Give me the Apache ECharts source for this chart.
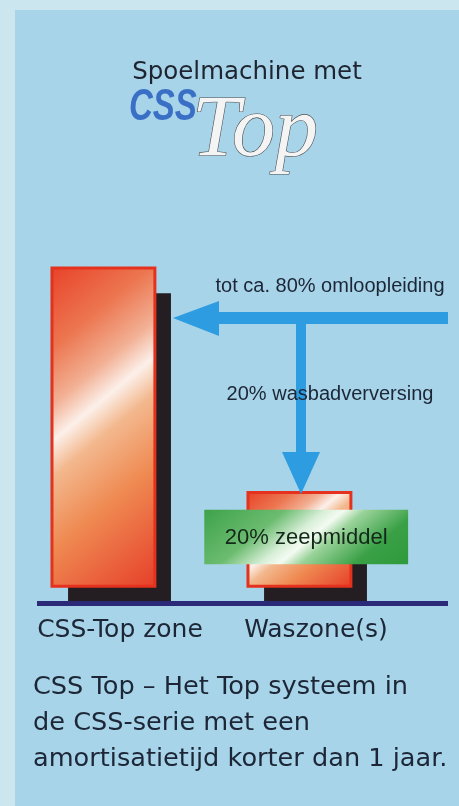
<!DOCTYPE html>
<html>
<head>
<meta charset="utf-8">
<title>CSS Top</title>
<script src="https://cdn.jsdelivr.net/npm/echarts@6.0.0/dist/echarts.min.js"></script>
<style>
  html, body { margin: 0; padding: 0; background: #cbe6ef; }
  #chart { width: 459px; height: 806px; }
</style>
</head>
<body>
<div id="chart"></div>
<script>
// zones on the base line
const categories = ["CSS-Top zone", "Waszone(s)"];
// red block: top and bottom (the block floats a bit above the base line)
const blockTops = [100, 33];
const blockBottoms = [5, 5];
// black back block, from the base line up to here
const shadowTops = [92.5, 25.7];
// green soap label on the wash zone: [category, bottom, top]
const soapBox = [[1, 11.6, 27.8]];
const soapLabel = "20% zeepmiddel";
const flowLabels = ["tot ca. 80% omloopleiding", "20% wasbadverversing"];
const footer = [
  "CSS Top – Het Top systeem in",
  "de CSS-serie met een",
  "amortisatietijd korter dan 1 jaar."
];

const chart = echarts.init(document.getElementById("chart"));

// gradient running across the block, white streak from lower-left to upper-right
function streak(x, y, w, h, stops) {
  const dx = 85, dy = 103;
  const len = Math.sqrt(dx * dx + dy * dy);
  const L = (w * dx + h * dy) / len;
  return new echarts.graphic.LinearGradient(
    x, y, x + dx / len * L, y + dy / len * L, stops, true);
}

const redStops = [
  { offset: 0, color: "#e8432a" },
  { offset: 0.2, color: "#ec7650" },
  { offset: 0.34, color: "#f2b094" },
  { offset: 0.43, color: "#fcf0ea" },
  { offset: 0.52, color: "#f3b88e" },
  { offset: 0.7, color: "#ef8a52" },
  { offset: 1, color: "#e6402a" }
];
const greenStops = [
  { offset: 0, color: "#3da24a" },
  { offset: 0.3, color: "#6cbc70" },
  { offset: 0.45, color: "#d8efd8" },
  { offset: 0.52, color: "#f4fbf2" },
  { offset: 0.6, color: "#9ad39a" },
  { offset: 0.8, color: "#3aa046" },
  { offset: 1, color: "#2e9a3c" }
];

const blockData = categories.map((c, i) => [i, blockTops[i], blockBottoms[i], shadowTops[i]]);

const txt = "#1c2636";

let option = {
  backgroundColor: "#cbe6ef",
  animation: false,
  grid: { left: 22, right: 45, top: 268, bottom: 203 },
  xAxis: {
    type: "category",
    data: categories,
    axisLine: { show: false },
    axisTick: { show: false },
    axisLabel: {
      interval: 0,
      margin: 15,
      fontSize: 25,
      fontFamily: "DejaVu Sans",
      color: txt
    }
  },
  yAxis: {
    type: "value",
    min: 0,
    max: 100,
    show: false
  },
  series: [
    {
      type: "custom",
      name: "zones",
      z: 2,
      data: blockData,
      renderItem: function (params, api) {
        const i = api.value(0);
        const band = api.size([1, 0])[0];
        const top = api.coord([i, api.value(1)]);
        const bot = api.coord([i, api.value(2)]);
        const sTop = api.coord([i, api.value(3)]);
        const base = api.coord([i, 0]);
        const w = band * 0.525;
        const x0 = top[0] - band * 0.347;
        const sx = x0 + band * 0.082;
        return {
          type: "group",
          children: [
            {
              type: "rect",
              shape: { x: sx, y: sTop[1], width: w, height: base[1] - sTop[1] },
              style: { fill: "#241e22" }
            },
            {
              type: "rect",
              shape: { x: x0, y: top[1], width: w, height: bot[1] - top[1] },
              style: {
                fill: streak(x0, top[1], w, bot[1] - top[1], redStops),
                stroke: "#e4321e",
                lineWidth: 3
              }
            }
          ]
        };
      }
    },
    {
      type: "custom",
      name: "zeepmiddel",
      z: 3,
      data: soapBox,
      renderItem: function (params, api) {
        const i = api.value(0);
        const band = api.size([1, 0])[0];
        const top = api.coord([i, api.value(2)]);
        const bot = api.coord([i, api.value(1)]);
        const w = band * 1.04;
        const x0 = top[0] - w / 2 - band * 0.05;
        const h = bot[1] - top[1];
        return {
          type: "group",
          children: [
            {
              type: "rect",
              shape: { x: x0, y: top[1], width: w, height: h },
              style: { fill: streak(x0, top[1], w, h, greenStops) }
            },
            {
              type: "text",
              style: {
                text: soapLabel,
                x: x0 + w / 2,
                y: top[1] + h / 2 + 1,
                align: "center",
                verticalAlign: "middle",
                fontSize: 22,
                fontFamily: "Liberation Sans",
                fill: "#14281a"
              }
            }
          ]
        };
      }
    }
  ],
  graphic: [
    // main panel
    { type: "rect", z: -10, shape: { x: 15, y: 10, width: 444, height: 796 }, style: { fill: "#a7d4e8" } },
    // base line
    { type: "rect", z: 4, shape: { x: 37, y: 601, width: 411, height: 5 }, style: { fill: "#2a2a78" } },
    // flow arrows
    { type: "rect", z: 5, shape: { x: 216, y: 312, width: 232, height: 12 }, style: { fill: "#2d9ce0" } },
    { type: "polygon", z: 5, shape: { points: [[173, 318], [219, 301], [219, 336]] }, style: { fill: "#2d9ce0" } },
    { type: "rect", z: 5, shape: { x: 296, y: 318, width: 10, height: 136 }, style: { fill: "#2d9ce0" } },
    { type: "polygon", z: 5, shape: { points: [[282, 452], [320, 452], [301, 494]] }, style: { fill: "#2d9ce0" } },
    { type: "text", z: 10, style: { text: flowLabels[0], x: 330, y: 286, align: "center", verticalAlign: "middle", fontSize: 20, fontFamily: "Liberation Sans", fill: txt } },
    { type: "text", z: 10, style: { text: flowLabels[1], x: 330, y: 394, align: "center", verticalAlign: "middle", fontSize: 20, fontFamily: "Liberation Sans", fill: txt } },
    // title
    { type: "text", z: 10, style: { text: "Spoelmachine met", x: 247, y: 73, align: "center", verticalAlign: "middle", fontSize: 24.5, fontFamily: "DejaVu Sans", fill: "#1e2430" } },
    { type: "text", z: 10, x: 129, y: 130, scaleY: 1.35, style: { text: "CSS", x: 0, y: 0, align: "left", verticalAlign: "bottom", fontSize: 33, fontWeight: "bold", fontStyle: "italic", fontFamily: "Liberation Sans", fill: "#3a6fc6" } },
    { type: "text", z: 10, style: { text: "Top", x: 192, y: 132, align: "left", verticalAlign: "middle", fontSize: 86, fontStyle: "italic", fontFamily: "Liberation Serif", fill: "#f4f4f4", stroke: "#4c4c4c", lineWidth: 1.2 } },
    // footer text
    { type: "text", z: 10, style: { text: footer[0], x: 33, y: 687, align: "left", verticalAlign: "middle", fontSize: 25.6, fontFamily: "DejaVu Sans", fill: txt } },
    { type: "text", z: 10, style: { text: footer[1], x: 33, y: 723, align: "left", verticalAlign: "middle", fontSize: 25.6, fontFamily: "DejaVu Sans", fill: txt } },
    { type: "text", z: 10, style: { text: footer[2], x: 33, y: 759, align: "left", verticalAlign: "middle", fontSize: 25.6, fontFamily: "DejaVu Sans", fill: txt } }
  ]
};

option && chart.setOption(option);
</script>
</body>
</html>
